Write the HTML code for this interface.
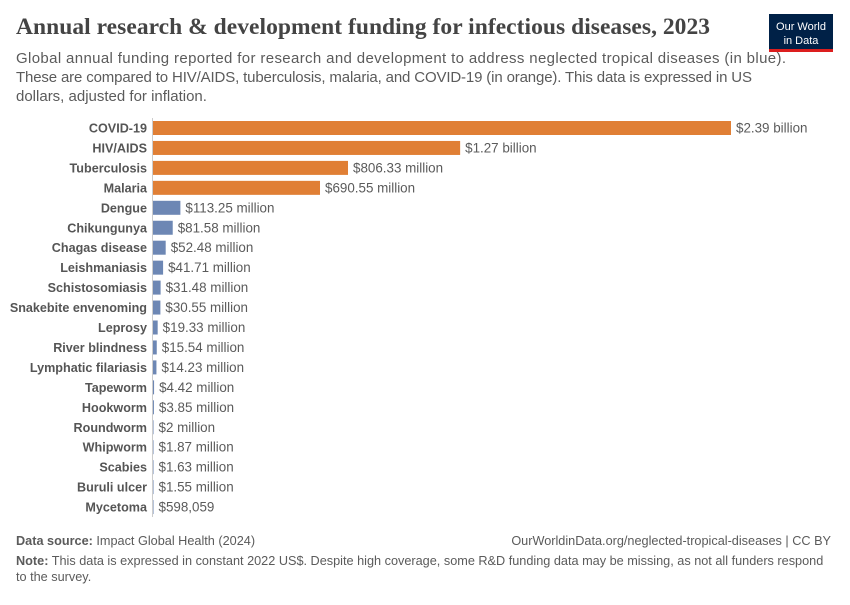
<!DOCTYPE html>
<html><head><meta charset="utf-8"><style>
body{margin:0;background:#fff;width:850px;height:600px;overflow:hidden}
svg text{font-family:"Liberation Sans",sans-serif}
</style></head><body>
<svg width="850" height="600" xmlns="http://www.w3.org/2000/svg">
<text x="16" y="34" font-size="23.5" font-weight="bold" fill="#444" textLength="694" style="font-family:'Liberation Serif',serif">Annual research &amp; development funding for infectious diseases, 2023</text>
<rect x="769" y="14" width="64" height="36" fill="#002147"/>
<rect x="769" y="49" width="64" height="3" fill="#dc1e1e"/>
<text x="801" y="30" font-size="11" fill="#fff" text-anchor="middle">Our World</text>
<text x="801" y="44" font-size="11" fill="#fff" text-anchor="middle">in Data</text>
<g font-size="15" fill="#5b5b5b">
<text x="16" y="63" textLength="770">Global annual funding reported for research and development to address neglected tropical diseases (in blue).</text>
<text x="16" y="82" textLength="736">These are compared to HIV/AIDS, tuberculosis, malaria, and COVID-19 (in orange). This data is expressed in US</text>
<text x="16" y="101">dollars, adjusted for inflation.</text>
</g>
<line x1="152.5" y1="118" x2="152.5" y2="517" stroke="#ccc"/>
<g id="rows"></g>
<g font-size="12.7" fill="#5b5b5b">
<text x="16" y="545"><tspan font-weight="bold">Data source:</tspan> Impact Global Health (2024)</text>
<text x="831" y="545" text-anchor="end">OurWorldinData.org/neglected-tropical-diseases | CC BY</text>
<text x="16" y="565"><tspan font-weight="bold">Note:</tspan> This data is expressed in constant 2022 US$. Despite high coverage, some R&amp;D funding data may be missing, as not all funders respond</text>
<text x="16" y="581">to the survey.</text>
</g>
</svg>
<script>
var d=[["COVID-19",2390e6,"$2.39 billion",1],["HIV/AIDS",1270e6,"$1.27 billion",1],["Tuberculosis",806.33e6,"$806.33 million",1],["Malaria",690.55e6,"$690.55 million",1],["Dengue",113.25e6,"$113.25 million"],["Chikungunya",81.58e6,"$81.58 million"],["Chagas disease",52.48e6,"$52.48 million"],["Leishmaniasis",41.71e6,"$41.71 million"],["Schistosomiasis",31.48e6,"$31.48 million"],["Snakebite envenoming",30.55e6,"$30.55 million"],["Leprosy",19.33e6,"$19.33 million"],["River blindness",15.54e6,"$15.54 million"],["Lymphatic filariasis",14.23e6,"$14.23 million"],["Tapeworm",4.42e6,"$4.42 million"],["Hookworm",3.85e6,"$3.85 million"],["Roundworm",2e6,"$2 million"],["Whipworm",1.87e6,"$1.87 million"],["Scabies",1.63e6,"$1.63 million"],["Buruli ulcer",1.55e6,"$1.55 million"],["Mycetoma",598059,"$598,059"]];
var g=document.getElementById('rows'),s='';
d.forEach(function(r,i){var y=128+i*19.95,w=Math.max(r[1]*578/2390e6,0.5);
s+='<text x="147" y="'+(y+4.5)+'" text-anchor="end" font-weight="bold" font-size="12.6" fill="#555">'+r[0]+'</text>';
s+='<rect x="153" y="'+(y-7)+'" width="'+w+'" height="14" fill="'+(r[3]?'#e07f35':'#6d87b4')+'"/>';
s+='<text x="'+(153+w+5)+'" y="'+(y+4.5)+'" font-size="13.4" fill="#5b5b5b">'+r[2]+'</text>';});
g.innerHTML=s;
</script>
</body></html>
